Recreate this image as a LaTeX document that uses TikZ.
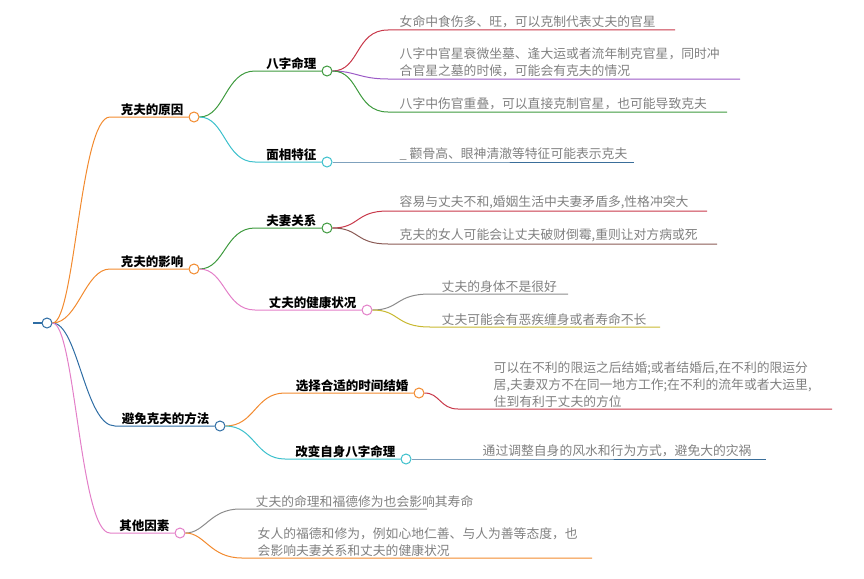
\documentclass[tikz,border=0pt]{standalone}
\usepackage{fontspec}
\setmainfont{Noto Sans CJK SC}
\definecolor{cor}{HTML}{F28A2E}
\definecolor{cbl}{HTML}{2E6DA4}
\definecolor{cpk}{HTML}{E37FC8}
\definecolor{cgr}{HTML}{3E9A3E}
\definecolor{ccy}{HTML}{3CC0CC}
\definecolor{crd}{HTML}{C8384A}
\definecolor{cpu}{HTML}{9B59C6}
\definecolor{cbr}{HTML}{8A5A55}
\definecolor{cgy}{HTML}{8C8C8C}
\definecolor{cyl}{HTML}{C8B830}
\definecolor{cdb}{HTML}{3A6E9A}
\tikzset{
 dot/.style={circle,draw=#1,fill=white,line width=1pt,inner sep=0pt,minimum size=10pt},
 lbl/.style={anchor=south east,font=\bfseries\fontsize{12.5}{14}\selectfont,inner sep=1pt,xshift=-4pt},
 leaf/.style={anchor=south west,font=\fontsize{12.8}{17}\selectfont,text=black!50,align=left,inner sep=1.5pt,xshift=10pt},
 ln/.style={line width=1pt}
}
\begin{document}
\begin{tikzpicture}[x=1pt,y=-1pt]
\useasboundingbox (0,0) rectangle (864,578);
% root
\coordinate (r0) at (33,323);
\node[dot=cbl] (root) at (47,323) {};
\draw[cbl,line width=2pt] (r0) -- (root.west);
% level 1
\coordinate (a0) at (110,117); \node[dot=cor] (a) at (194,117) {};
\coordinate (b0) at (110,269); \node[dot=cor] (b) at (194,269) {};
\coordinate (c0) at (115,426); \node[dot=cbl] (c) at (220,426) {};
\coordinate (d0) at (110,533); \node[dot=cpk] (d) at (180,533) {};
\draw[cor,ln] (root.east) .. controls (75,323) and (80,117) .. (a0) -- (a.west);
\draw[cor,ln] (root.east) .. controls (78,323) and (85,269) .. (b0) -- (b.west);
\draw[cbl,ln] (root.east) .. controls (78,323) and (85,426) .. (c0) -- (c.west);
\draw[cpk,ln] (root.east) .. controls (75,323) and (80,533) .. (d0) -- (d.west);
\node[lbl] at (a.west) {克夫的原因};
\node[lbl] at (b.west) {克夫的影响};
\node[lbl] at (c.west) {避免克夫的方法};
\node[lbl] at (d.west) {其他因素};
% level 2
\coordinate (a10) at (255,71); \node[dot=cgr] (a1) at (327,71) {};
\coordinate (a20) at (255,162); \node[dot=ccy] (a2) at (327,162) {};
\coordinate (b10) at (255,228); \node[dot=cgr] (b1) at (327,228) {};
\coordinate (b20) at (255,310); \node[dot=cpk] (b2) at (367,310) {};
\coordinate (c10) at (285,393); \node[dot=cor] (c1) at (419,393) {};
\coordinate (c20) at (285,459); \node[dot=ccy] (c2) at (406,459) {};
\draw[cgr,ln] (a.east) .. controls (225,117) and (225,71) .. (a10) -- (a1.west);
\draw[ccy,ln] (a.east) .. controls (225,117) and (225,162) .. (a20) -- (a2.west);
\draw[cgr,ln] (b.east) .. controls (225,269) and (225,228) .. (b10) -- (b1.west);
\draw[cpk,ln] (b.east) .. controls (225,269) and (225,310) .. (b20) -- (b2.west);
\draw[cor,ln] (c.east) .. controls (255,426) and (255,393) .. (c10) -- (c1.west);
\draw[ccy,ln] (c.east) .. controls (255,426) and (255,459) .. (c20) -- (c2.west);
\node[lbl] at (a1.west) {八字命理};
\node[lbl] at (a2.west) {面相特征};
\node[lbl] at (b1.west) {夫妻关系};
\node[lbl] at (b2.west) {丈夫的健康状况};
\node[lbl] at (c1.west) {选择合适的时间结婚};
\node[lbl] at (c2.west) {改变自身八字命理};
% leaves
\coordinate (l1s) at (388,30); \coordinate (l1e) at (675,30);
\coordinate (l2s) at (388,79); \coordinate (l2e) at (740,79);
\coordinate (l3s) at (388,112); \coordinate (l3e) at (727,112);
\coordinate (l4s) at (388,162); \coordinate (l4e) at (634,162);
\coordinate (l5s) at (388,211); \coordinate (l5e) at (707,211);
\coordinate (l6s) at (388,244); \coordinate (l6e) at (717,244);
\coordinate (l7s) at (430,294); \coordinate (l7e) at (568,294);
\coordinate (l8s) at (430,327); \coordinate (l8e) at (660,327);
\coordinate (l9s) at (458,409); \coordinate (l9e) at (832,409);
\coordinate (l10s) at (465,459); \coordinate (l10e) at (766,459);
\coordinate (l11s) at (240,509); \coordinate (l11e) at (427,509);
\coordinate (l12s) at (242,558); \coordinate (l12e) at (592,558);
\draw[crd,ln] (a1.east) .. controls (360,71) and (355,30) .. (l1s) -- (l1e);
\draw[cpu,ln] (a1.east) .. controls (355,71) and (360,79) .. (l2s) -- (l2e);
\draw[cgr,ln] (a1.east) .. controls (360,71) and (355,112) .. (l3s) -- (l3e);
\draw[cdb,ln] (a2.east) -- (l4s) -- (l4e);
\draw[crd,ln] (b1.east) .. controls (360,228) and (355,211) .. (l5s) -- (l5e);
\draw[cbr,ln] (b1.east) .. controls (360,228) and (355,244) .. (l6s) -- (l6e);
\draw[cgy,ln] (b2.east) .. controls (400,310) and (395,294) .. (l7s) -- (l7e);
\draw[cyl,ln] (b2.east) .. controls (400,310) and (395,327) .. (l8s) -- (l8e);
\draw[crd,ln] (c1.east) .. controls (440,393) and (440,409) .. (l9s) -- (l9e);
\draw[cdb,ln] (c2.east) -- (l10s) -- (l10e);
\draw[cgy,ln] (d.east) .. controls (205,533) and (210,509) .. (l11s) -- (l11e);
\draw[cor,ln] (d.east) .. controls (205,533) and (210,558) .. (l12s) -- (l12e);
\node[leaf] at (l1s) {女命中食伤多、旺，可以克制代表丈夫的官星};
\node[leaf] at (l2s) {八字中官星衰微坐墓、逢大运或者流年制克官星，同时冲\\合官星之墓的时候，可能会有克夫的情况};
\node[leaf] at (l3s) {八字中伤官重叠，可以直接克制官星，也可能导致克夫};
\node[leaf] at (l4s) {\_ 颧骨高、眼神清澈等特征可能表示克夫};
\node[leaf] at (l5s) {容易与丈夫不和,婚姻生活中夫妻矛盾多,性格冲突大};
\node[leaf] at (l6s) {克夫的女人可能会让丈夫破财倒霉,重则让对方病或死};
\node[leaf] at (l7s) {丈夫的身体不是很好};
\node[leaf] at (l8s) {丈夫可能会有恶疾缠身或者寿命不长};
\node[leaf,xshift=24pt] at (l9s) {可以在不利的限运之后结婚;或者结婚后,在不利的限运分\\居,夫妻双方不在同一地方工作;在不利的流年或者大运里,\\住到有利于丈夫的方位};
\node[leaf,xshift=6pt] at (l10s) {通过调整自身的风水和行为方式，避免大的灾祸};
\node[leaf,xshift=4pt] at (l11s) {丈夫的命理和福德修为也会影响其寿命};
\node[leaf,xshift=4pt] at (l12s) {女人的福德和修为，例如心地仁善、与人为善等态度，也\\会影响夫妻关系和丈夫的健康状况};
\end{tikzpicture}
\end{document}
